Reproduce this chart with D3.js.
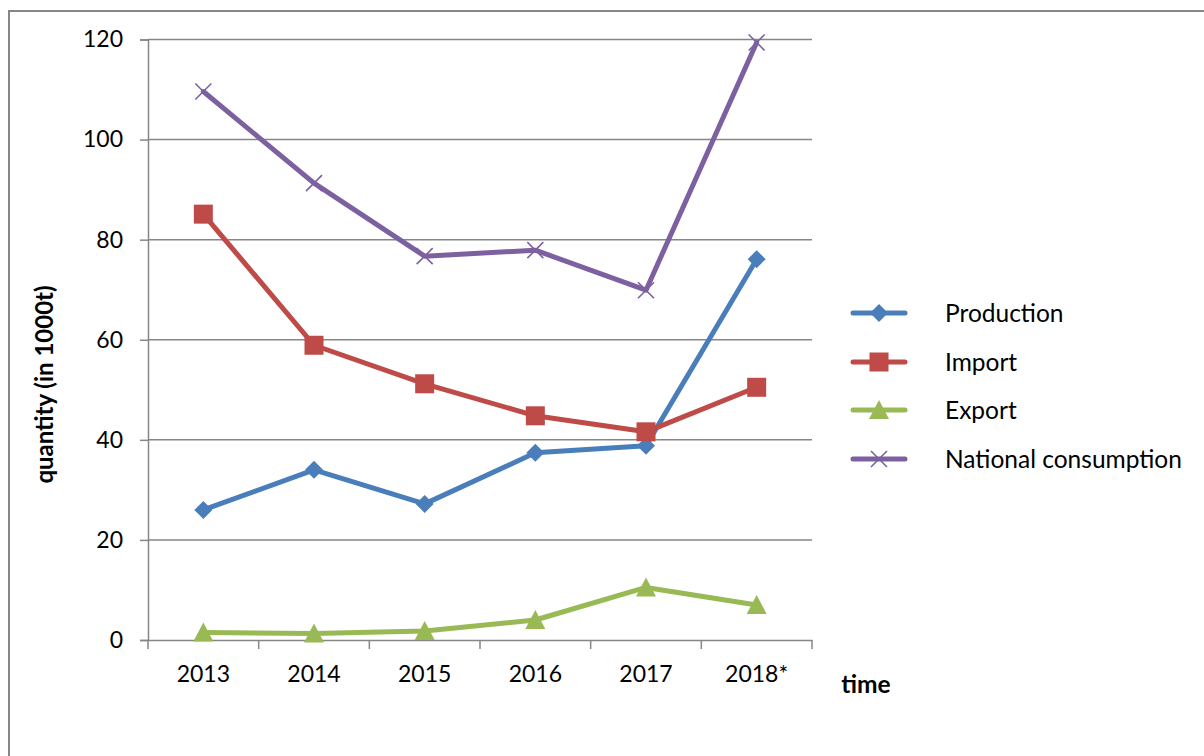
<!DOCTYPE html>
<html>
<head>
<meta charset="utf-8">
<script src="https://cdn.jsdelivr.net/npm/d3@7"></script>
<style>
  html, body { margin: 0; padding: 0; background: #ffffff; }
  svg { display: block; }
  text { font-family: Lato, "Open Sans", sans-serif; fill: #000; }
</style>
</head>
<body>
<svg id="chart" width="1204" height="756"></svg>
<script>
const categories = ["2013", "2014", "2015", "2016", "2017", "2018*"];
const production = [26.0, 34.0, 27.2, 37.4, 38.8, 76.1];
const importVals = [85.1, 58.9, 51.2, 44.8, 41.6, 50.5];
const exportVals = [1.5, 1.3, 1.8, 4.0, 10.5, 7.0];
const consumption = [109.6, 91.3, 76.7, 77.9, 69.9, 119.4];
const yTicks = [0, 20, 40, 60, 80, 100, 120];
const seriesNames = ["Production", "Import", "Export", "National consumption"];
const seriesColors = ["#4A7EBB", "#BE4B48", "#98B954", "#7D60A0"];
const seriesMarkers = ["diamond", "square", "triangle", "x"];
const seriesValues = [production, importVals, exportVals, consumption];

const svg = d3.select("#chart");
const plot = { left: 148, right: 812, top: 39.5, bottom: 640 };
const gridColor = "#868686";

// outer border
svg.append("rect")
  .attr("x", 9).attr("y", 11).attr("width", 1300).attr("height", 900)
  .attr("fill", "none").attr("stroke", "#868686").attr("stroke-width", 2);

const x = d3.scaleBand().domain(categories).range([plot.left, plot.right]).padding(0);
const y = d3.scaleLinear().domain([0, 120]).range([plot.bottom, plot.top]);

// gridlines
svg.append("g").selectAll("line").data(yTicks.filter(d => d > 0)).join("line")
  .attr("x1", plot.left).attr("x2", plot.right)
  .attr("y1", d => y(d)).attr("y2", d => y(d))
  .attr("stroke", gridColor).attr("stroke-width", 1.5);

// y axis
const yAxis = svg.append("g").attr("transform", `translate(${plot.left},0)`)
  .call(d3.axisLeft(y).tickValues(yTicks).tickSize(8).tickPadding(17).tickFormat(d3.format("d")));
yAxis.select(".domain").attr("stroke", gridColor).attr("stroke-width", 1.5);
yAxis.selectAll(".tick line").attr("stroke", gridColor).attr("stroke-width", 1.5);
yAxis.selectAll(".tick text").attr("font-size", 23).attr("font-family", "Lato, sans-serif").attr("fill", "#000");

// x axis
const xAxis = svg.append("g").attr("transform", `translate(0,${plot.bottom})`)
  .call(d3.axisBottom(x).tickSize(0).tickPadding(26));
xAxis.select(".domain").attr("stroke", gridColor).attr("stroke-width", 1.5);
xAxis.selectAll(".tick text").attr("font-size", 23).attr("font-family", "Lato, sans-serif").attr("fill", "#000");
// tick marks between categories
const bounds = categories.map(c => x(c)).concat([x(categories[categories.length - 1]) + x.bandwidth()]);
svg.append("g").selectAll("line").data(bounds).join("line")
  .attr("x1", d => d).attr("x2", d => d)
  .attr("y1", plot.bottom).attr("y2", plot.bottom + 9)
  .attr("stroke", gridColor).attr("stroke-width", 1.5);

// axis titles
svg.append("text")
  .attr("transform", `translate(53,${(283 + 486) / 2}) rotate(-90)`)
  .attr("text-anchor", "middle").attr("font-weight", "bold").attr("font-size", 24)
  .text("quantity (in 1000t)");
svg.append("text")
  .attr("x", 866).attr("y", 693)
  .attr("text-anchor", "middle").attr("font-weight", "bold").attr("font-size", 24.5)
  .text("time");

function drawMarker(g, type, cx, cy, color) {
  if (type === "diamond") {
    g.append("path").attr("d", `M${cx},${cy - 9}L${cx + 9},${cy}L${cx},${cy + 9}L${cx - 9},${cy}Z`)
      .attr("fill", color);
  } else if (type === "square") {
    g.append("rect").attr("x", cx - 9.5).attr("y", cy - 9.5).attr("width", 19).attr("height", 19)
      .attr("fill", color);
  } else if (type === "triangle") {
    g.append("path").attr("d", `M${cx},${cy - 10}L${cx + 10},${cy + 9}L${cx - 10},${cy + 9}Z`)
      .attr("fill", color);
  } else if (type === "x") {
    g.append("path").attr("d", `M${cx - 8},${cy - 8}L${cx + 8},${cy + 8}M${cx - 8},${cy + 8}L${cx + 8},${cy - 8}`)
      .attr("stroke", color).attr("stroke-width", 1.6).attr("fill", "none");
  }
}

const line = d3.line()
  .x((d, i) => x(categories[i]) + x.bandwidth() / 2)
  .y(d => y(d));

seriesValues.forEach((vals, si) => {
  const g = svg.append("g");
  g.append("path").datum(vals).attr("d", line)
    .attr("fill", "none").attr("stroke", seriesColors[si]).attr("stroke-width", 5)
    .attr("stroke-linejoin", "round").attr("stroke-linecap", "round");
  vals.forEach((v, i) => {
    drawMarker(g, seriesMarkers[si], x(categories[i]) + x.bandwidth() / 2, y(v), seriesColors[si]);
  });
});

// legend
const legendY = [313, 362, 410, 459];
seriesNames.forEach((name, si) => {
  const g = svg.append("g");
  const ly = legendY[si];
  g.append("line").attr("x1", 853).attr("x2", 905).attr("y1", ly).attr("y2", ly)
    .attr("stroke", seriesColors[si]).attr("stroke-width", 5).attr("stroke-linecap", "round");
  drawMarker(g, seriesMarkers[si], 879, ly, seriesColors[si]);
  g.append("text").attr("x", 945).attr("y", ly).attr("dy", "0.35em")
    .attr("font-size", 24.5).text(name);
});
</script>
</body>
</html>
